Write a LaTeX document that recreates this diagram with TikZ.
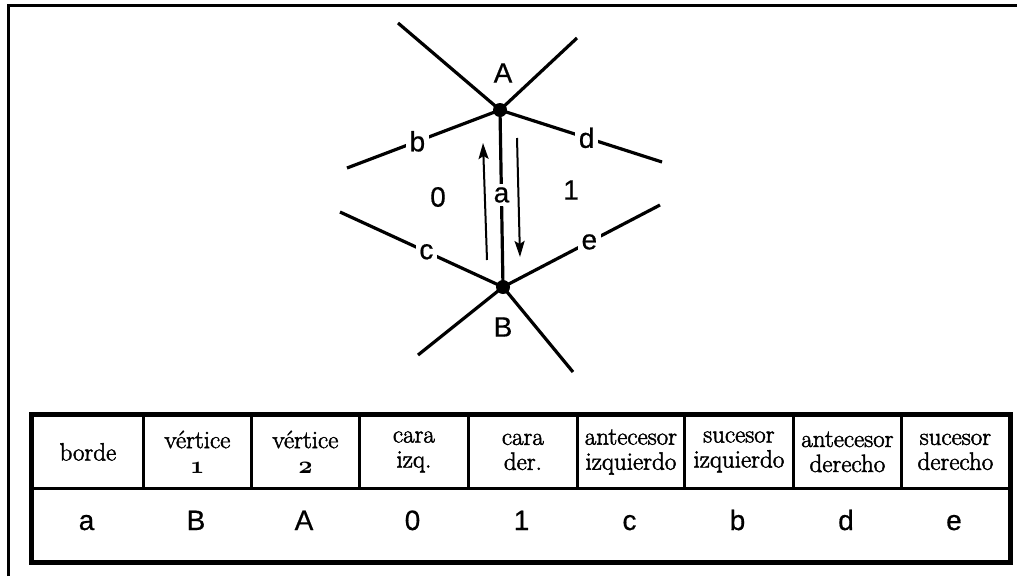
\documentclass[tikz,border=0pt]{standalone}
\usepackage{fontspec}
\newfontfamily\arialf{Liberation Sans}[FakeBold=0.6]
\newfontfamily\headf{Latin Modern Roman}[FakeBold=2]
\usetikzlibrary{arrows.meta}
\newcommand\osfig[1]{{\usefont{OML}{cmm}{b}{it}#1}}
\begin{document}
\begin{tikzpicture}[x=1pt,y=-1pt,
  edge/.style={line width=3.2pt},
  vdot/.style={circle,fill=black,inner sep=0pt,minimum size=14pt},
  lbl/.style={font=\arialf\fontsize{28}{30}\selectfont, inner sep=0pt},
  elbl/.style={lbl, fill=white, inner sep=3.5pt},
  dirarrow/.style={line width=2pt,-{Stealth[length=16pt,width=10pt,inset=3pt]}},
  cell/.style={draw, line width=2.8pt, minimum height=73pt, inner sep=0pt, anchor=north west},
  head/.style={font=\headf\fontsize{25}{25}\selectfont, align=center},
  val/.style={font=\arialf\fontsize{28}{30}\selectfont, anchor=base},
  frame/.style={line width=3pt},
  outer/.style={line width=3.8pt}
]
\useasboundingbox (0,0) rectangle (1017,576);
% frame
\coordinate (f1) at (8,576);
\coordinate (f2) at (8,5);
\coordinate (f3) at (1017,5);
\draw[frame] (f1) -- (f2) -- (f3);
% diagram
\node[vdot] (A) at (500,110) {};
\node[vdot] (B) at (503,287) {};
\coordinate (aul) at (398,23);
\coordinate (aur) at (577,38);
\coordinate (ab) at (347,168);
\coordinate (ad) at (662,162);
\coordinate (bc) at (340,212);
\coordinate (be) at (660,205);
\coordinate (bll) at (418,355);
\coordinate (blr) at (573,372);
\draw[edge] (A.center) -- (aul);
\draw[edge] (A.center) -- (aur);
\draw[edge] (B.center) -- (bll);
\draw[edge] (B.center) -- (blr);
\draw[edge] (A.center) -- node[elbl,pos=0.54] (lb) {b} (ab);
\draw[edge] (A.center) -- node[elbl,pos=0.535] (ld) {d} (ad);
\draw[edge] (B.center) -- node[elbl,pos=0.47] (lc) {c} (bc);
\draw[edge] (B.center) -- node[elbl,pos=0.55] (le) {e} (be);
\draw[edge] (A.center) -- node[elbl,pos=0.48] (la) {a} (B.center);
\node[lbl] (Alab) at (503,73) {A};
\node[lbl] (Blab) at (503,327) {B};
\node[lbl] (f0) at (438,197) {0};
\node[lbl] (f1lab) at (571,190) {1};
\coordinate (u1) at (487,260);
\coordinate (u2) at (483,143);
\coordinate (d1) at (517,138);
\coordinate (d2) at (520,257);
\draw[dirarrow] (u1) -- (u2);
\draw[dirarrow] (d1) -- (d2);
% table header
\node[cell,head,minimum width=111pt] (h1) at (31,414) {borde};
\node[cell,head,minimum width=108pt] (h2) at (142,414) {vértice\\\osfig{1}};
\node[cell,head,minimum width=108pt] (h3) at (250,414) {vértice\\\osfig{2}};
\node[cell,head,minimum width=109pt] (h4) at (358,414) {cara\\izq.};
\node[cell,head,minimum width=109pt] (h5) at (467,414) {cara\\der.};
\node[cell,head,minimum width=107pt] (h6) at (576,414) {antecesor\\izquierdo};
\node[cell,head,minimum width=109pt] (h7) at (683,414) {sucesor\\izquierdo};
\node[cell,head,minimum width=108pt] (h8) at (792,414) {antecesor\\derecho};
\node[cell,head,minimum width=108pt] (h9) at (900,414) {sucesor\\derecho};
% value row
\node[cell,minimum width=977pt] (row) at (31,487) {};
\node[val] (v1) at (86.5,530) {a};
\node[val] (v2) at (196,530) {B};
\node[val] (v3) at (304,530) {A};
\node[val] (v4) at (412.5,530) {0};
\node[val] (v5) at (521.5,530) {1};
\node[val] (v6) at (629.5,530) {c};
\node[val] (v7) at (737.5,530) {b};
\node[val] (v8) at (846,530) {d};
\node[val] (v9) at (954,530) {e};
\draw[outer] (h1.north west) rectangle (row.south east);
\end{tikzpicture}
\end{document}
